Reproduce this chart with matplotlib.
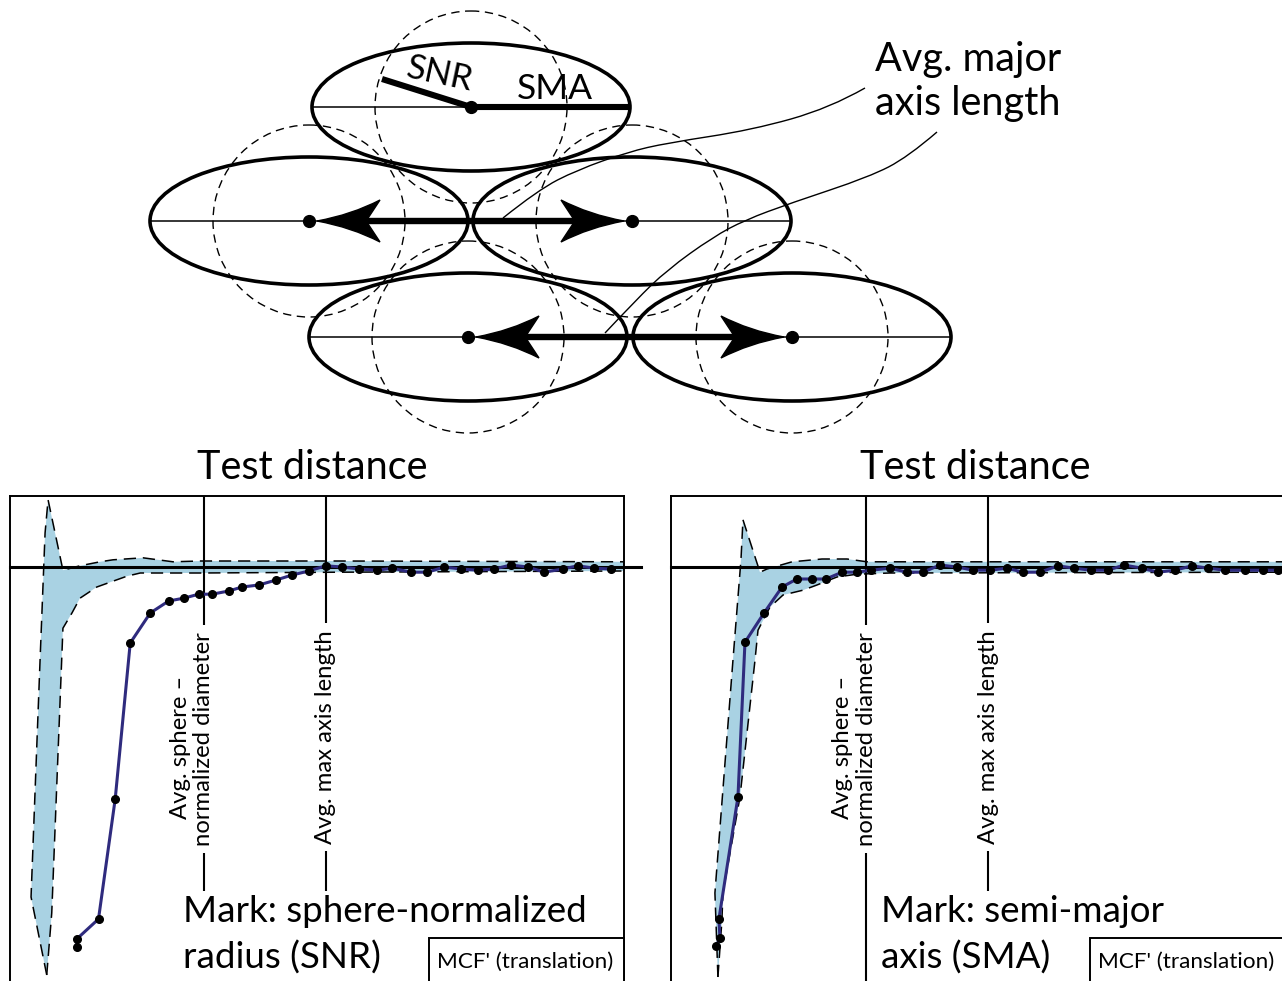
import numpy as np
import matplotlib
matplotlib.use("Agg")
import matplotlib.pyplot as plt
from matplotlib.patches import Ellipse, Circle, Rectangle, PathPatch
from matplotlib.path import Path

plt.rcParams['font.family'] = ['Lato', 'DejaVu Sans']

# ---- data: MCF' (translation) vs test distance ----
# left panel, mark = sphere-normalized radius (SNR)
snr_x = [4.0, 4.0, 5.3, 6.3, 7.2, 8.4, 9.5, 10.4, 11.3, 12.1, 13.1, 13.9, 14.9, 15.9, 16.9,
         17.9, 18.9, 19.9, 20.9, 22.0, 22.9, 24.0, 25.0, 26.0, 27.0, 28.0, 29.0, 30.0, 31.0,
         32.0, 33.1, 34.0, 35.0, 36.0]
snr_y = [-0.95, -0.93, -0.88, -0.58, -0.19, -0.115, -0.085, -0.078, -0.068, -0.068, -0.06,
         -0.05, -0.045, -0.033, -0.02, -0.01, 0.003, 0.0, -0.005, -0.008, -0.003, -0.013,
         -0.013, 0.0, -0.005, -0.008, -0.005, 0.005, 0.0, -0.013, -0.005, 0.003, -0.003, -0.005]
snr_band_up_x = [2.2, 1.26, 1.8, 2.1, 2.28, 3.17, 4.19, 5.39, 6.17, 7.96, 9.76, 11.38, 19.76, 36.77]
snr_band_up_y = [-1.02, -0.825, -0.233, 0.085, 0.168, -0.008, 0.003, 0.013, 0.018, 0.023, 0.013,
                 0.015, 0.015, 0.013]
snr_band_lo_x = [2.2, 2.5, 3.17, 3.71, 4.19, 5.2, 7.0, 7.8, 11.4, 19.8, 36.77]
snr_band_lo_y = [-1.02, -0.865, -0.153, -0.115, -0.078, -0.05, -0.023, -0.015, -0.015, -0.013, -0.01]

# right panel, mark = semi-major axis (SMA)
sma_x = [2.69, 2.93, 2.87, 4.01, 4.43, 5.57, 6.65, 7.54, 8.44, 9.28, 10.24, 11.14, 11.98, 13.11,
         14.13, 15.09, 16.11, 17.13, 18.08, 19.1, 20.12, 21.08, 22.1, 23.17, 24.13, 25.15, 26.17,
         27.13, 28.2, 29.16, 30.18, 31.2, 32.16, 33.17, 34.37, 35.45, 36.35]
sma_y = [-0.948, -0.928, -0.88, -0.575, -0.188, -0.115, -0.05, -0.03, -0.03, -0.03, -0.013,
         -0.013, -0.008, -0.003, -0.013, -0.013, 0.005, 0.0, -0.008, -0.008, -0.003, -0.013,
         -0.013, 0.003, -0.003, -0.008, -0.008, 0.005, -0.003, -0.013, -0.008, 0.003, -0.003,
         -0.008, -0.008, -0.008, -0.008]
sma_band_up_x = [2.81, 2.69, 2.63, 3.71, 4.19, 4.31, 5.15, 5.33, 5.75, 7.25, 9.04, 10.54, 11.74, 13.1, 36.77]
sma_band_up_y = [-1.025, -0.883, -0.815, -0.233, 0.018, 0.118, 0.01, -0.013, -0.005, 0.013, 0.02,
                 0.02, 0.013, 0.013, 0.013]
sma_band_lo_x = [2.81, 3.05, 3.11, 4.13, 5.03, 5.21, 5.93, 6.71, 7.9, 8.74, 9.94, 11.14, 13.11, 36.77]
sma_band_lo_y = [-1.025, -0.883, -0.815, -0.575, -0.233, -0.158, -0.1, -0.07, -0.058, -0.045,
                 -0.025, -0.018, -0.015, -0.013]

# reference distances (avg sphere-normalized diameter, avg max axis length)
snr_refs = [11.6, 18.9]
sma_refs = [11.7, 19.0]

# ---- schematic (pixel coordinates of the drawing) ----
ell_centers = [(471, 107), (309, 221), (632, 221), (468, 337), (792, 337)]
ell_a, ell_b, circ_r = 159, 64, 96
snr_end = (382, 79)
lead1 = [(865, 88), (830, 108), (752, 130), (667, 143), (628, 152), (577, 170), (538, 190), (503, 218)]
lead2 = [(937, 132), (908, 157), (869, 177), (791, 203), (745, 220), (713, 237), (667, 270),
         (636, 300), (605, 333)]

BAND = '#a9d2e3'
CURVE = '#2f2b7e'
W, H = 1282, 981

fig = plt.figure(figsize=(W / 100, H / 100), dpi=100)

dg = fig.add_axes([0, 0, 1, 1])
dg.set_xlim(0, W)
dg.set_ylim(H, 0)
dg.axis('off')


def smooth(pts):
    verts = [pts[0]]
    codes = [Path.MOVETO]
    for i in range(1, len(pts) - 2):
        mid = ((pts[i][0] + pts[i + 1][0]) / 2, (pts[i][1] + pts[i + 1][1]) / 2)
        verts += [pts[i], mid]
        codes += [Path.CURVE3, Path.CURVE3]
    verts += [pts[-2], pts[-1]]
    codes += [Path.CURVE3, Path.CURVE3]
    return Path(verts, codes)


def stealth(tip, d, L=63, w=21):
    tx, ty = tip
    verts = [(tx, ty), (tx + d * 0.55 * L, ty - 0.3 * w), (tx + d * L, ty - w),
             (tx + d * 0.78 * L, ty), (tx + d * L, ty + w),
             (tx + d * 0.55 * L, ty + 0.3 * w), (tx, ty), (tx, ty)]
    codes = [Path.MOVETO, Path.CURVE3, Path.CURVE3, Path.LINETO, Path.LINETO,
             Path.CURVE3, Path.CURVE3, Path.CLOSEPOLY]
    dg.add_patch(PathPatch(Path(verts, codes), facecolor='black', edgecolor='black', lw=1, zorder=6))


for cx, cy in ell_centers:
    dg.add_patch(Circle((cx, cy), circ_r, fill=False, ec='black', lw=1.0,
                        linestyle=(0, (6, 4)), zorder=2))
for cx, cy in ell_centers:
    dg.add_patch(Ellipse((cx, cy), 2 * ell_a, 2 * ell_b, fill=False, ec='black', lw=2.6, zorder=3))
    dg.plot([cx - ell_a, cx + ell_a], [cy, cy], color='black', lw=1.1, zorder=3)

for p in (lead1, lead2):
    dg.add_patch(PathPatch(smooth(p), fill=False, ec='black', lw=1.0, zorder=4))

# top ellipse: SNR and SMA
tc = ell_centers[0]
dg.plot([tc[0], tc[0] + ell_a], [tc[1], tc[1]], color='black', lw=4.4, solid_capstyle='butt', zorder=5)
dg.plot([tc[0], snr_end[0]], [tc[1], snr_end[1]], color='black', lw=4.4, solid_capstyle='butt', zorder=5)
dg.text(440, 74, 'SNR', fontsize=25, rotation=-12, ha='center', va='center', zorder=7)
dg.text(555, 89, 'SMA', fontsize=25.5, ha='center', va='center', zorder=7)

# translation arrows
for a, b in [(ell_centers[1], ell_centers[2]), (ell_centers[3], ell_centers[4])]:
    dg.plot([a[0] + 40, b[0] - 40], [a[1], b[1]], color='black', lw=4.6, solid_capstyle='butt', zorder=5)
    stealth((a[0] + 8, a[1]), 1)
    stealth((b[0] - 8, b[1]), -1)

for cx, cy in ell_centers:
    dg.plot(cx, cy, 'o', color='black', ms=8.5, zorder=7)

dg.text(875, 60, 'Avg. major', fontsize=28.5, ha='left', va='center', zorder=7)
dg.text(875, 104, 'axis length', fontsize=28.5, ha='left', va='center', zorder=7)


# ---- bottom panels ----
def panel(x0, xs, ys, ux, uy, lx, ly, refs, mark_lines, mark_x, title_x):
    ax = fig.add_axes([x0 / W, -2 / H, 614 / W, 487 / H])
    ax.set_xlim(0, 36.77)
    ax.set_ylim(-1.04, 0.1775)
    ax.set_xticks([])
    ax.set_yticks([])
    for s in ax.spines.values():
        s.set_linewidth(1.4)
    ax.spines['bottom'].set_visible(False)

    poly_x = list(ux) + list(lx[::-1])
    poly_y = list(uy) + list(ly[::-1])
    ax.fill(poly_x, poly_y, color=BAND, lw=0, zorder=1)
    ax.plot(ux, uy, color='black', lw=1.1, linestyle=(0, (8, 4.5)), zorder=2)
    ax.plot(lx, ly, color='black', lw=1.1, linestyle=(0, (8, 4.5)), zorder=2)

    ax.plot([0, 37.8], [0, 0], color='black', lw=2.2, clip_on=False, zorder=3)
    for r in refs:
        ax.axvline(r, color='black', lw=1.5, zorder=3)

    ax.plot(xs, ys, color=CURVE, lw=2.2, zorder=4)
    ax.plot(xs, ys, 'o', color='black', ms=5.5, zorder=5)

    wb = dict(facecolor='white', edgecolor='none', pad=5)
    ax.text(refs[0], -0.43, 'normalized diameter', rotation=90, fontsize=17.2,
            ha='center', va='center', bbox=wb, zorder=6)
    ax.annotate('Avg. sphere \u2013', xy=(refs[0], -0.45), xytext=(-17, 0),
                textcoords='offset points', rotation=90, fontsize=17.2,
                ha='center', va='center', zorder=6)
    ax.text(refs[1], -0.425, 'Avg. max axis length', rotation=90, fontsize=17.2,
            ha='center', va='center', bbox=wb, zorder=6)

    mb = dict(facecolor='white', edgecolor='none', pad=3)
    ax.text(mark_x, 0.146, mark_lines[0], transform=ax.transAxes, fontsize=26.5,
            ha='left', va='center', bbox=mb, zorder=7)
    ax.text(mark_x, 0.052, mark_lines[1], transform=ax.transAxes, fontsize=26.5,
            ha='left', va='center', bbox=dict(facecolor='white', edgecolor='none', pad=9), zorder=7)

    ax.add_patch(Rectangle((0.682, -0.05), 0.318, 0.1424, transform=ax.transAxes,
                           facecolor='white', edgecolor='black', lw=1.4, zorder=8, clip_on=False))
    ax.text(0.695, 0.043, "MCF' (translation)", transform=ax.transAxes, fontsize=16.2,
            ha='left', va='center', zorder=9)

    ax.text(title_x, 1.0575, 'Test distance', transform=ax.transAxes, fontsize=28.5,
            ha='center', va='center')
    return ax


panel(10, snr_x, snr_y, snr_band_up_x, snr_band_up_y, snr_band_lo_x, snr_band_lo_y,
      snr_refs, ['Mark: sphere-normalized', 'radius (SNR)'], 0.282, 0.492)
panel(671, sma_x, sma_y, sma_band_up_x, sma_band_up_y, sma_band_lo_x, sma_band_lo_y,
      sma_refs, ['Mark: semi-major', 'axis (SMA)'], 0.342, 0.495)

fig.savefig('out.png', dpi=100)
